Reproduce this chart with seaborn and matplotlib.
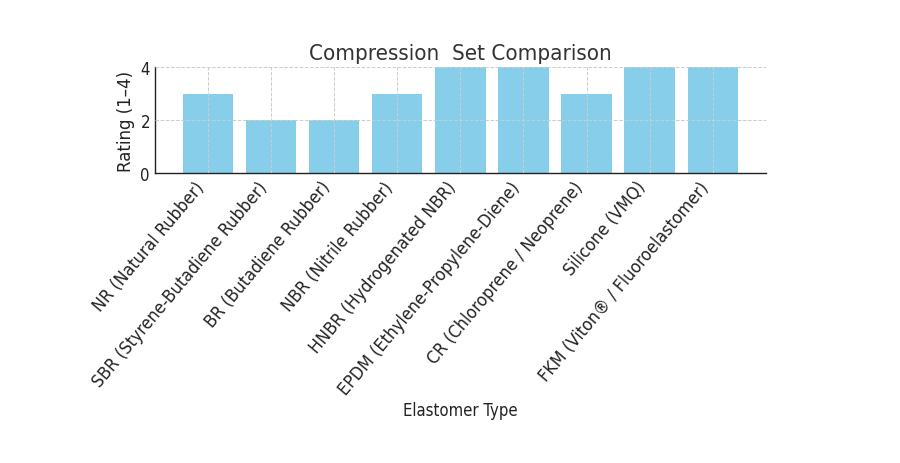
import matplotlib
matplotlib.use("Agg")
import matplotlib.pyplot as plt
import seaborn as sns

# elastomer types and compression set rating (1-4)
elastomers = [
    "NR (Natural Rubber)",
    "SBR (Styrene-Butadiene Rubber)",
    "BR (Butadiene Rubber)",
    "NBR (Nitrile Rubber)",
    "HNBR (Hydrogenated NBR)",
    "EPDM (Ethylene-Propylene-Diene)",
    "CR (Chloroprene / Neoprene)",
    "Silicone (VMQ)",
    "FKM (Viton® / Fluoroelastomer)",
]
ratings = [3, 2, 2, 3, 4, 4, 3, 4, 4]
y_ticks = [0, 2, 4]

sns.set_style("white")
plt.rcParams['font.family'] = ['DejaVu Sans']
plt.rcParams['font.stretch'] = 'condensed'
plt.rcParams['text.color'] = '#333333'
plt.rcParams['axes.labelcolor'] = '#222222'

fig, ax = plt.subplots(figsize=(9, 4.64), dpi=100)
fig.subplots_adjust(left=0.172, right=0.851, top=0.853, bottom=0.625)

sns.barplot(x=elastomers, y=ratings, ax=ax, color='skyblue',
            saturation=1, width=0.8, linewidth=0)

ax.set_xlim(-0.84, len(elastomers) - 1 + 0.84)
ax.set_ylim(0, 4)
ax.set_yticks(y_ticks)

ax.set_title("Compression  Set Comparison", fontsize=16, color='#333333')
ax.set_xlabel("Elastomer Type", fontsize=12, labelpad=2.5)
ax.set_ylabel("Rating (1–4)", fontsize=12, fontstretch='normal')

ax.set_axisbelow(False)
ax.grid(True, linestyle='--', color='#cccccc', linewidth=0.7)

for side in ['top', 'right']:
    ax.spines[side].set_visible(False)
for side in ['left', 'bottom']:
    ax.spines[side].set_color('#222222')
    ax.spines[side].set_linewidth(1.0)

ax.tick_params(axis='both', direction='in', length=3.5, colors='#222222',
               labelsize=12, labelcolor='#222222')
plt.setp(ax.get_xticklabels(), rotation=50, ha='right', fontsize=12.8)

fig.savefig("out.png", dpi=100)
